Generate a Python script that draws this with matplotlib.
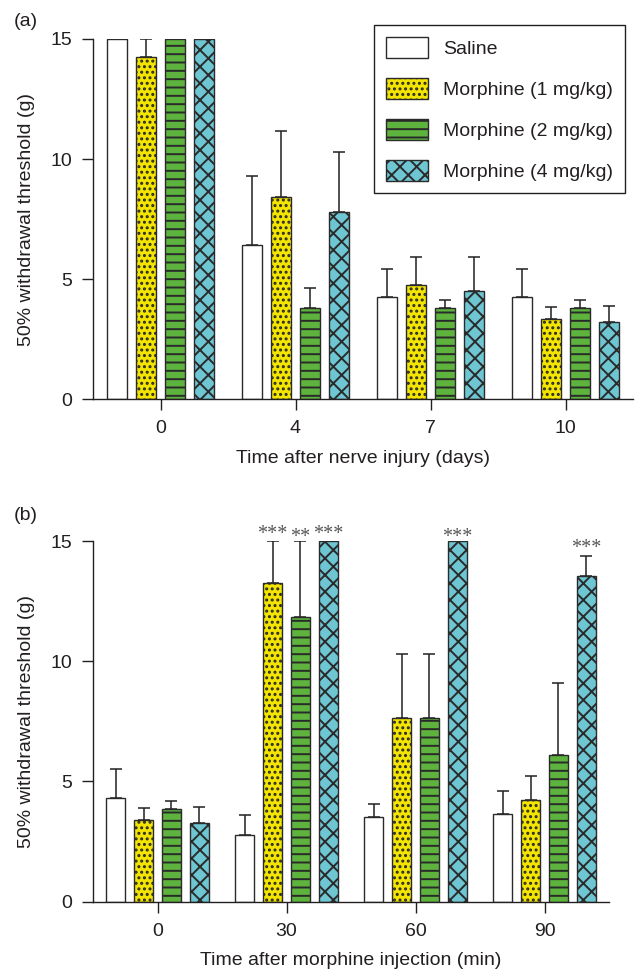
import numpy as np
import matplotlib
matplotlib.use('Agg')
import matplotlib.pyplot as plt

plt.rcParams['font.family'] = ['Liberation Sans', 'DejaVu Sans']
plt.rcParams['hatch.linewidth'] = 1.4
plt.rcParams['text.color'] = '#231f20'
plt.rcParams['axes.labelcolor'] = '#231f20'
plt.rcParams['xtick.color'] = '#231f20'
plt.rcParams['ytick.color'] = '#231f20'

# ---- data ----
series = ['Saline', 'Morphine (1 mg/kg)', 'Morphine (2 mg/kg)', 'Morphine (4 mg/kg)']

days = ['0', '4', '7', '10']
a_saline = [15.0, 6.42, 4.28, 4.28]
a_m1 = [14.25, 8.41, 4.77, 3.34]
a_m2 = [15.0, 3.80, 3.80, 3.80]
a_m4 = [15.0, 7.81, 4.52, 3.23]
a_saline_err = [0.0, 2.86, 1.17, 1.17]
a_m1_err = [0.75, 2.76, 1.14, 0.49]
a_m2_err = [0.0, 0.86, 0.33, 0.33]
a_m4_err = [0.0, 2.47, 1.39, 0.68]

minutes = ['0', '30', '60', '90']
b_saline = [4.33, 2.77, 3.54, 3.63]
b_m1 = [3.40, 13.24, 7.63, 4.25]
b_m2 = [3.85, 11.82, 7.63, 6.08]
b_m4 = [3.28, 15.0, 15.0, 13.53]
b_saline_err = [1.17, 0.83, 0.54, 0.98]
b_m1_err = [0.48, 1.76, 2.69, 0.96]
b_m2_err = [0.35, 3.18, 2.69, 3.03]
b_m4_err = [0.67, 0.0, 0.0, 0.86]

# significance marks in panel b: (group, series index, text, y)
stars_group = [1, 1, 1, 2, 3]
stars_series = [1, 2, 3, 3, 3]
stars_text = ['***', '**', '***', '***', '***']
stars_y = [15.53, 15.40, 15.53, 15.40, 14.94]

colors = ['white', '#f3e500', '#5db33d', '#6ec6d2']
hatches = [None, '...', '--', 'xx']

FS = 14
W, H = 636, 971
fig = plt.figure(figsize=(W / 100, H / 100), dpi=100)
ax_a = fig.add_axes([93 / W, 1 - 399.5 / H, (633 - 93) / W, (399.5 - 39) / H])
ax_b = fig.add_axes([93 / W, 1 - 901.7 / H, (609 - 93) / W, (901.7 - 541) / H])

pitch = 0.215
width = 0.148
x = np.arange(4)


def draw_panel(ax, vals, errs, ticklabels, xlabel):
    bars = []
    for i, (v, e) in enumerate(zip(vals, errs)):
        pos = x + (i - 1.5) * pitch
        b = ax.bar(pos, v, width, color=colors[i], edgecolor='#2a2a2a',
                   linewidth=1.0, hatch=hatches[i], label=series[i], zorder=2)
        e = np.array(e)
        m = e > 0
        ax.errorbar(pos[m], np.array(v)[m], yerr=[np.zeros(m.sum()), e[m]],
                    fmt='none', ecolor='#231f20', elinewidth=1.1,
                    capsize=4.5, capthick=1.1, zorder=1)
        bars.append(b)
    ax.set_xlim(-0.5, 3.5)
    ax.set_ylim(0, 15)
    ax.set_yticks([0, 5, 10, 15])
    ax.set_xticks(x)
    ax.set_xticklabels(ticklabels)
    for s in ['top', 'right']:
        ax.spines[s].set_visible(False)
    for s in ['left', 'bottom']:
        ax.spines[s].set_linewidth(1.0)
        ax.spines[s].set_color('#231f20')
    ax.tick_params(direction='out', length=8, width=1.0, labelsize=FS, pad=7)
    ax.set_xlabel(xlabel, fontsize=FS, labelpad=9)
    ax.set_ylabel('50% withdrawal threshold (g)', fontsize=FS)
    return bars


bars = draw_panel(ax_a, [a_saline, a_m1, a_m2, a_m4],
                  [a_saline_err, a_m1_err, a_m2_err, a_m4_err],
                  days, 'Time after nerve injury (days)')
draw_panel(ax_b, [b_saline, b_m1, b_m2, b_m4],
           [b_saline_err, b_m1_err, b_m2_err, b_m4_err],
           minutes, 'Time after morphine injection (min)')

ax_a.yaxis.set_label_coords(-0.107, 0.5)
ax_b.yaxis.set_label_coords(-0.112, 0.5)

for g, s, t, yy in zip(stars_group, stars_series, stars_text, stars_y):
    ax_b.text(g + (s - 1.5) * pitch, yy - 0.25, t, ha='center', va='center',
              fontsize=14.5, family='Liberation Serif', color='#555555')

fig.legend(bars, series, loc='upper right',
           bbox_to_anchor=(625 / W, 1 - 25 / H), borderaxespad=0,
           fontsize=FS, frameon=True, fancybox=False, framealpha=1,
           edgecolor='#231f20', handlelength=2.15, handleheight=1.3,
           labelspacing=1.02, handletextpad=0.8, borderpad=0.6)

fig.text(14 / W, 1 - 22 / H, '(a)', fontsize=FS, va='center')
fig.text(14 / W, 1 - 515 / H, '(b)', fontsize=FS, va='center')

fig.savefig('out.png', dpi=100)
